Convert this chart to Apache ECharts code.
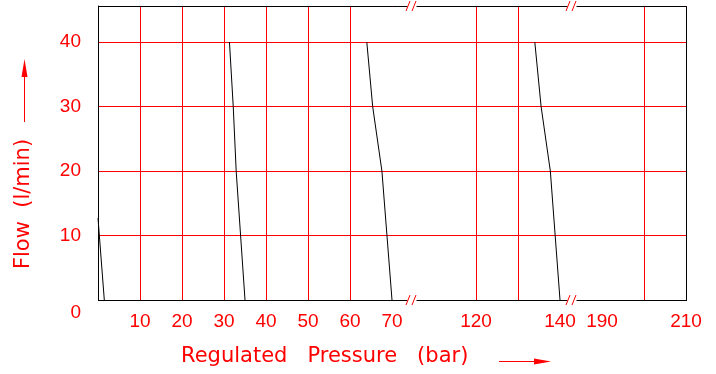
<!DOCTYPE html>
<html>
<head>
<meta charset="utf-8">
<script src="https://cdn.jsdelivr.net/npm/echarts@6/dist/echarts.min.js"></script>
<style>
html,body{margin:0;padding:0;background:#fff;}
#c{width:716px;height:374px;}
</style>
</head>
<body>
<div id="c"></div>
<script>
// ---- data (pressure in bar, flow in l/min) ----
var curve1 = [[1.5, 0], [0, 12.7]];
var curve2 = [[31.3, 40], [32.2, 30], [32.9, 20], [35.0, 0]];
var curve3 = [[64.0, 40], [65.4, 30], [67.6, 20], [70.0, 0]];
var curve4 = [[134.0, 40], [135.5, 30], [137.7, 20], [140.0, 0]];
var xTickLabels = [10, 20, 30, 40, 50, 60, 70, 120, 140, 190, 210];
var yTickLabels = [0, 10, 20, 30, 40];
var xBreaks = [[70, 110], [140, 190]];
var xTitle = 'Regulated   Pressure   (bar)';
var yTitle = 'Flow  (l/min)';

var RED = '#ff0000';
var NUMFONT = 'Liberation Sans';
var TFONT = 'DejaVu Sans';

var chart = echarts.init(document.getElementById('c'), null, {renderer: 'canvas'});

function lineSeries(d) {
  return {type: 'line', data: d, showSymbol: false, symbol: 'none', silent: true,
    lineStyle: {color: '#000', width: 1}, itemStyle: {color: '#000'}, z: 5, animation: false};
}

var option = {
  animation: false,
  backgroundColor: '#fff',
  grid: {left: 98, right: 30, top: 6, bottom: 74, show: false},
  xAxis: {
    type: 'value', min: 0, max: 210, interval: 10,
    breaks: xBreaks.map(function (b) { return {start: b[0], end: b[1], gap: 10}; }),
    breakArea: {show: false},
    axisLine: {show: true, lineStyle: {color: '#000', width: 1}},
    axisTick: {show: false},
    splitLine: {show: true, lineStyle: {color: RED, width: 1}},
    axisLabel: {
      color: RED, fontSize: 19, fontFamily: NUMFONT, margin: 12,
      showMinLabel: true, showMaxLabel: true, hideOverlap: false,
      formatter: function (v) { return xTickLabels.indexOf(Math.round(v)) >= 0 && Math.abs(v - Math.round(v)) < 1e-6 ? String(Math.round(v)) : ''; }
    }
  },
  yAxis: {
    type: 'value', min: 0, max: 45.6, interval: 10,
    axisLine: {show: true, lineStyle: {color: '#000', width: 1}},
    axisTick: {show: false},
    splitLine: {show: true, lineStyle: {color: RED, width: 1}},
    axisLabel: {
      color: RED, fontSize: 19, fontFamily: NUMFONT, margin: 17, showMaxLabel: false,
      formatter: function (v) {
        if (yTickLabels.indexOf(v) < 0) return '';
        return v === 0 ? '{z|0}' : String(v);
      },
      rich: {z: {color: RED, fontSize: 19, fontFamily: NUMFONT, padding: [26, 0, 0, 0]}}
    }
  },
  series: [lineSeries(curve1), lineSeries(curve2), lineSeries(curve3), lineSeries(curve4)]
};
chart.setOption(option);

// decorations: frame, break marks, axis titles, arrows
function px(v) { return chart.convertToPixel({xAxisIndex: 0}, v); }
var gr = chart.getModel().getComponent('grid').coordinateSystem.getRect();
var topY = gr.y, botY = gr.y + gr.height;
var g = [];
g.push({type: 'rect', shape: {x: Math.round(gr.x) + 0.5, y: Math.round(gr.y) + 0.5, width: Math.round(gr.width), height: Math.round(gr.height)},
  style: {fill: null, stroke: '#000', lineWidth: 1}, z: 19, silent: true});
var breakCenters = [px(xBreaks[0][0]) + 20, px(xBreaks[1][0]) + 12];
breakCenters.forEach(function (cx) {
  [topY, botY].forEach(function (yy) {
    g.push({type: 'rect', shape: {x: cx - 4.5, y: yy - 1.5, width: 9, height: 3}, style: {fill: '#fff'}, z: 20, silent: true});
    g.push({type: 'line', shape: {x1: cx - 6, y1: yy + 5, x2: cx - 2, y2: yy - 5}, style: {stroke: RED, lineWidth: 1}, z: 21, silent: true});
    g.push({type: 'line', shape: {x1: cx, y1: yy + 5, x2: cx + 4, y2: yy - 5}, style: {stroke: RED, lineWidth: 1}, z: 21, silent: true});
  });
});
g.push({type: 'text', x: 181, y: 357, style: {text: xTitle, fill: RED, font: '21px "' + TFONT + '"', textAlign: 'left', textVerticalAlign: 'middle'}, z: 20, silent: true});
g.push({type: 'line', shape: {x1: 499, y1: 361.5, x2: 536, y2: 361.5}, style: {stroke: RED, lineWidth: 1}, z: 20, silent: true});
g.push({type: 'polygon', shape: {points: [[551, 361.5], [534, 358.5], [534, 364.5]]}, style: {fill: RED}, z: 20, silent: true});
g.push({type: 'text', x: 24, y: 204, rotation: Math.PI / 2, style: {text: yTitle, fill: RED, font: '21px "' + TFONT + '"', textAlign: 'center', textVerticalAlign: 'middle'}, z: 20, silent: true});
g.push({type: 'line', shape: {x1: 24.5, y1: 122, x2: 24.5, y2: 75}, style: {stroke: RED, lineWidth: 1}, z: 20, silent: true});
g.push({type: 'polygon', shape: {points: [[24.5, 59], [21.5, 77], [27.5, 77]]}, style: {fill: RED}, z: 20, silent: true});
chart.setOption({graphic: g});
</script>
</body>
</html>
